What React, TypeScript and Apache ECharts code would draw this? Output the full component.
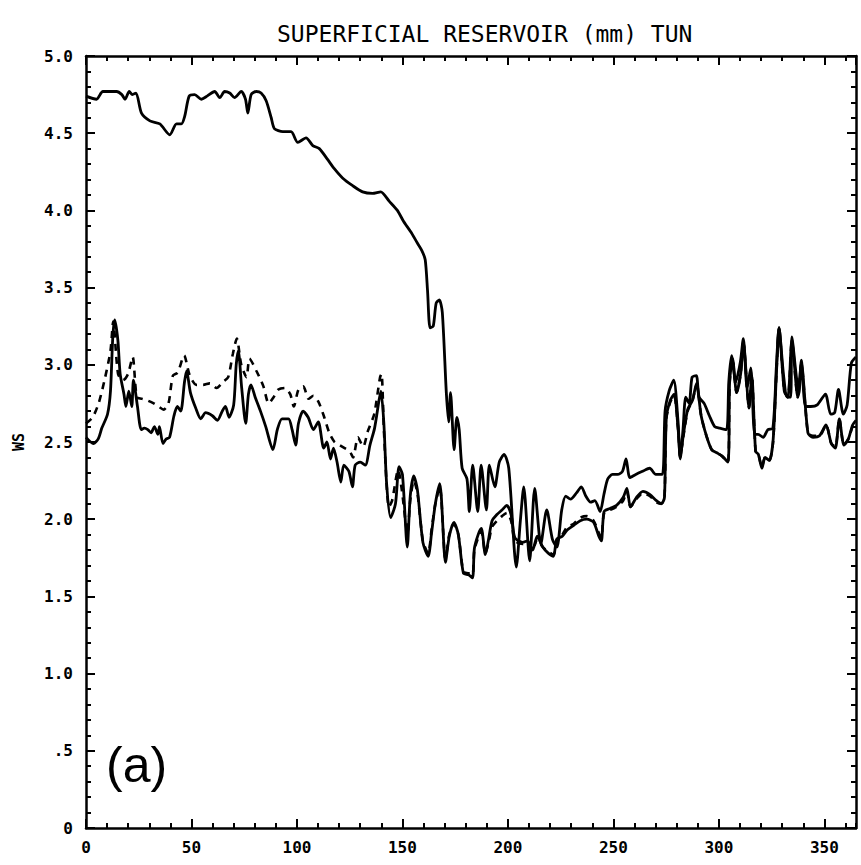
import React, { useEffect, useRef } from "react";
import * as echarts from "echarts";

const chartTitle = "SUPERFICIAL RESERVOIR (mm) TUN";
const yAxisName = "WS";
const panelLabel = "(a)";

// Day of year, value
const seriesA: [number, number][] = [
  [0, 4.74], [5, 4.72], [8, 4.77], [14.5, 4.77], [17, 4.75], [18.5, 4.72], [20.5, 4.77], [22, 4.75], [23.7, 4.76],
  [26.3, 4.63], [30.3, 4.58], [35, 4.56], [39.7, 4.49], [42.9, 4.56], [45.2, 4.56], [46.8, 4.61], [48.9, 4.74],
  [51.5, 4.75], [54.7, 4.72], [57.4, 4.74], [61, 4.77], [63.4, 4.73], [65.7, 4.77], [68.1, 4.76], [70.4, 4.73],
  [73.6, 4.77], [75.6, 4.72], [76.7, 4.63], [78.3, 4.75], [80.7, 4.77], [83, 4.76], [85.4, 4.71], [87.8, 4.6],
  [89.3, 4.53], [93.3, 4.51], [97.2, 4.51], [100.4, 4.44], [104.3, 4.47], [107.5, 4.42], [110.6, 4.4], [114.5, 4.33],
  [117.7, 4.27], [121.6, 4.21], [126.4, 4.16], [131.1, 4.12], [135.8, 4.11], [139.7, 4.12], [143.7, 4.06],
  [147.6, 4.0], [150.5, 3.93], [154, 3.86], [157, 3.79], [159.2, 3.74], [160.8, 3.68], [161.9, 3.48], [163.1, 3.24],
  [164.6, 3.25], [166, 3.4], [167.5, 3.42], [168.9, 3.34], [170.8, 2.82], [171.9, 2.63], [172.8, 2.82], [174.5, 2.45],
  [175.8, 2.66], [176.9, 2.58], [178.3, 2.33], [180.6, 2.26], [181.7, 2.05], [183.3, 2.35], [185.7, 2.05],
  [187.3, 2.35], [189.8, 2.06], [191.2, 2.35], [193.8, 2.21], [195.9, 2.37], [198.2, 2.42], [200.4, 2.33], [204, 1.69],
  [205.9, 1.99], [207.5, 2.21], [210.3, 1.73], [212.7, 2.2], [215.6, 1.84], [218.4, 2.06], [221.1, 1.87], [223.2, 1.82],
  [225.5, 2.06], [227.4, 2.15], [229.7, 2.13], [232.5, 2.17], [234.8, 2.21], [236.9, 2.15], [239.2, 2.11], [241.2, 2.12],
  [243.7, 2.05], [245.5, 2.16], [247.3, 2.26], [249.6, 2.29], [252, 2.29], [254.3, 2.31], [256, 2.39], [257.8, 2.27],
  [260.6, 2.29], [263.8, 2.31], [267.2, 2.33], [270.1, 2.29], [273.2, 2.29], [274.5, 2.7], [276.4, 2.83], [278.6, 2.9],
  [280.6, 2.64], [281.7, 2.39], [283, 2.58], [284.3, 2.79], [285.9, 2.75], [287.3, 2.92], [289.3, 2.93], [290.6, 2.79],
  [293, 2.75], [295.5, 2.67], [298, 2.6], [300.4, 2.59], [303.6, 2.58], [304.7, 2.89], [306, 3.06], [308, 2.89],
  [310.2, 3.02], [311.6, 3.17], [313.4, 2.85], [315.1, 2.98], [317, 2.55], [318.6, 2.55], [321, 2.53], [323.2, 2.58],
  [325.6, 2.59], [327.3, 3.0], [328.5, 3.24], [330.6, 2.94], [332.4, 2.79], [334, 2.79], [334.6, 3.18], [336.6, 2.94],
  [337.9, 2.81], [339.1, 3.03], [341.1, 2.73], [343.5, 2.73], [346.6, 2.74], [350.5, 2.81], [353, 2.68], [354.9, 2.69],
  [356.7, 2.84], [359, 2.68], [360.8, 2.74], [362.8, 3.01], [365, 3.05],
];

const seriesB: [number, number][] = [
  [0, 2.53], [3.5, 2.49], [5.8, 2.52], [7.5, 2.59], [10.2, 2.68], [11.6, 2.83], [12.7, 3.18], [13.6, 3.29], [15.1, 3.16],
  [16.2, 2.94], [18, 2.81], [18.9, 2.73], [20.3, 2.83], [21.7, 2.73], [22.5, 2.9], [24.4, 2.73], [26.2, 2.58],
  [27.7, 2.59], [29.3, 2.58], [30.9, 2.56], [32.4, 2.6], [34.1, 2.55], [34.8, 2.6], [36.5, 2.49], [38, 2.52],
  [39.6, 2.53], [41.7, 2.67], [43.3, 2.73], [44.9, 2.7], [46.7, 2.89], [47.7, 2.96], [49.5, 2.82], [52, 2.72],
  [54.4, 2.65], [56.7, 2.69], [59.9, 2.67], [62.3, 2.64], [64.6, 2.7], [66.1, 2.73], [67.8, 2.66], [70, 2.74],
  [71.2, 3.0], [72.2, 3.09], [73.8, 2.85], [75.7, 2.62], [77, 2.81], [78.2, 2.87], [80.2, 2.79], [82.7, 2.7],
  [85.2, 2.6], [88.6, 2.45], [90.7, 2.58], [92.9, 2.65], [96, 2.65], [97.7, 2.58], [99.4, 2.48], [100.7, 2.62],
  [102.9, 2.7], [105.3, 2.66], [107.8, 2.58], [110.1, 2.63], [112.7, 2.46], [114.2, 2.5], [115.9, 2.39], [117.3, 2.46],
  [119, 2.37], [120.8, 2.24], [122.2, 2.35], [124.6, 2.31], [126.3, 2.21], [127.6, 2.35], [130, 2.37], [132.4, 2.35],
  [134.6, 2.48], [136.8, 2.59], [138.9, 2.77], [139.8, 2.83], [141.2, 2.62], [142.5, 2.23], [144.4, 2.01],
  [146.7, 2.1], [148.4, 2.34], [150, 2.29], [152.3, 1.82], [153.7, 2.15], [155.4, 2.28], [157.1, 2.19], [159.7, 1.85],
  [162.2, 1.76], [163.8, 1.91], [165.6, 2.1], [167.7, 2.23], [170.4, 1.72], [172.2, 1.89], [174.4, 1.98], [176.5, 1.9],
  [178.9, 1.65], [181.3, 1.64], [183.2, 1.62], [184.1, 1.81], [185.9, 1.9], [187.4, 1.94], [189.3, 1.77], [190.7, 1.86],
  [192.5, 1.99], [194.8, 2.03], [197.2, 2.06], [199.5, 2.09], [201.5, 2.03], [203.3, 1.88], [207, 1.85], [209.3, 1.86],
  [211.7, 1.8], [213.9, 1.89], [216.5, 1.82], [219.1, 1.78], [221.6, 1.76], [223.1, 1.87], [225.8, 1.89], [228.1, 1.93],
  [231.2, 1.96], [234.3, 1.99], [237.4, 2.0], [240.6, 1.98], [243.1, 1.89], [244.3, 1.86], [245.6, 2.05], [248.4, 2.07],
  [251.5, 2.09], [254.6, 2.14], [256.4, 2.2], [258.1, 2.08], [260.9, 2.14], [264, 2.18], [267.2, 2.16], [270.4, 2.12],
  [272.7, 2.1], [274.2, 2.14], [275.1, 2.66], [277, 2.77], [278.8, 2.81], [280.7, 2.58], [281.7, 2.4], [283.1, 2.54],
  [285.2, 2.71], [287.5, 2.77], [289.4, 2.88], [291.6, 2.67], [294.1, 2.54], [296.6, 2.45], [299, 2.43], [301.4, 2.41],
  [304.3, 2.37], [305.1, 2.89], [306.5, 3.04], [308.4, 2.82], [310.4, 2.95], [311.6, 3.15], [314.3, 2.72], [315.6, 2.93],
  [317.4, 2.44], [318.7, 2.42], [320.4, 2.33], [321.9, 2.4], [323.9, 2.38], [325.7, 2.51], [327.4, 2.98], [328.5, 3.24],
  [331, 2.83], [332.7, 2.79], [334.6, 3.16], [337.4, 2.79], [339.1, 3.01], [342.2, 2.56], [344.6, 2.53], [347.7, 2.54],
  [350.8, 2.61], [353.3, 2.49], [355.2, 2.46], [357.1, 2.65], [359.3, 2.48], [361.4, 2.52], [363.4, 2.61], [365, 2.64],
];

const seriesC: [number, number][] = [
  [0, 2.62], [3.2, 2.66], [6.2, 2.76], [9.1, 2.92], [11.6, 3.09], [12.9, 3.28], [15.2, 2.94], [17.6, 2.9], [19.9, 2.94],
  [22.1, 3.05], [24.1, 2.79], [26.5, 2.78], [28.9, 2.77], [32.1, 2.75], [34.4, 2.73], [36.8, 2.71], [39.1, 2.75],
  [41.2, 2.93], [43.5, 2.95], [46.5, 3.06], [49.2, 2.93], [52.4, 2.87], [55.5, 2.87], [58.7, 2.88], [61.9, 2.85],
  [65, 2.89], [67.4, 2.92], [69.6, 3.07], [71.5, 3.17], [73.6, 3.0], [76.1, 2.92], [77.5, 3.04], [80.8, 2.96],
  [84.1, 2.86], [86.6, 2.75], [88.9, 2.79], [91.2, 2.84], [94.3, 2.85], [96.8, 2.81], [98.5, 2.73], [100.7, 2.84],
  [103, 2.86], [105.5, 2.78], [107.8, 2.8], [110.2, 2.76], [112.7, 2.67], [115.3, 2.56], [117.8, 2.5], [120.2, 2.48],
  [122.6, 2.46], [125, 2.44], [126.6, 2.4], [128.9, 2.53], [131.4, 2.47], [133.6, 2.57], [136.6, 2.68], [139.4, 2.92],
  [140.1, 2.94], [141.3, 2.55], [143.6, 2.08], [145.1, 2.12], [148, 2.32], [149.7, 2.19], [152.4, 1.91], [153.7, 2.12],
  [155.4, 2.25], [157.1, 2.17], [159.7, 1.86], [162.2, 1.78], [163.8, 1.93], [165.6, 2.1], [167.7, 2.21], [170.4, 1.74],
  [172.2, 1.9], [174.4, 1.97], [176.5, 1.9], [178.9, 1.66], [181.3, 1.65], [183.2, 1.64], [184.1, 1.8], [185.9, 1.88],
  [187.4, 1.92], [189.3, 1.78], [190.7, 1.84], [192.5, 1.95], [194.8, 1.99], [197.2, 2.02], [199.5, 2.04], [201.5, 1.99],
  [203.3, 1.86], [207, 1.84], [209.3, 1.85], [211.7, 1.8], [213.9, 1.87], [216.5, 1.82], [219.1, 1.79], [221.6, 1.77],
  [223.1, 1.85], [225.8, 1.9], [228.1, 1.95], [231.2, 1.97], [234.3, 2.01], [237.4, 2.02], [240.6, 1.99], [243.1, 1.91],
  [244.3, 1.88], [245.6, 2.04], [248.4, 2.06], [251.5, 2.08], [254.6, 2.12], [256.4, 2.18], [258.1, 2.08], [260.9, 2.13],
  [264, 2.17], [267.2, 2.15], [270.4, 2.11], [272.7, 2.1], [274.2, 2.14], [275.1, 2.65], [277, 2.76], [278.8, 2.8],
  [280.7, 2.58], [281.7, 2.41], [283.1, 2.53], [285.2, 2.7], [287.5, 2.77], [289.4, 2.87], [291.6, 2.67], [294.1, 2.54],
  [296.6, 2.45], [299, 2.43], [301.4, 2.41], [304.3, 2.37], [305.1, 2.88], [306.5, 3.03], [308.4, 2.82], [310.4, 2.95],
  [311.6, 3.14], [314.3, 2.72], [315.6, 2.93], [317.4, 2.44], [318.7, 2.42], [320.4, 2.34], [321.9, 2.4], [323.9, 2.38],
  [325.7, 2.5], [327.4, 2.98], [328.5, 3.23], [331, 2.83], [332.7, 2.79], [334.6, 3.15], [337.4, 2.79], [339.1, 3.0],
  [342.2, 2.56], [344.6, 2.54], [347.7, 2.54], [350.8, 2.61], [353.3, 2.49], [355.2, 2.47], [357.1, 2.65], [359.3, 2.48],
  [361.4, 2.52], [363.4, 2.6], [365, 2.63],
];

const X_MIN = 0;
const X_MAX = 365;
const X_MAJOR = 50;
const X_MINOR = 10;
const Y_MIN = 0;
const Y_MAX = 5;
const Y_MAJOR = 0.5;
const Y_MINOR = 0.1;

const MONO = "'DejaVu Sans Mono', 'Liberation Mono', monospace";
const INK = "#000";

function xLabel(v: number): string {
  return v % 50 === 0 && v <= 350 ? String(v) : "";
}
function yLabel(v: number): string {
  if (v === 0) return "0";
  if (v < 1) return ".5";
  return v.toFixed(1);
}

function xAxisDef(position: "bottom" | "top", interval: number, major: boolean, labels: boolean) {
  return {
    type: "value",
    min: X_MIN,
    max: X_MAX,
    interval,
    position,
    axisLine: { show: major, onZero: false, lineStyle: { color: INK, width: 2.5 } },
    axisTick: { show: true, inside: true, length: major ? 9 : 5, lineStyle: { color: INK, width: 2 } },
    axisLabel: labels
      ? { show: true, formatter: xLabel, margin: 11, color: INK, fontFamily: MONO, fontWeight: "bold", fontSize: 16, showMaxLabel: false }
      : { show: false },
    splitLine: { show: false },
  };
}

function yAxisDef(position: "left" | "right", interval: number, major: boolean, labels: boolean) {
  const base: any = {
    type: "value",
    min: Y_MIN,
    max: Y_MAX,
    interval,
    position,
    axisLine: { show: major, onZero: false, lineStyle: { color: INK, width: 2.5 } },
    axisTick: { show: true, inside: true, length: major ? 9 : 5, lineStyle: { color: INK, width: 2 } },
    axisLabel: labels
      ? { show: true, formatter: yLabel, margin: 13, color: INK, fontFamily: MONO, fontWeight: "bold", fontSize: 16 }
      : { show: false },
    splitLine: { show: false },
  };
  if (labels) {
    base.name = yAxisName;
    base.nameLocation = "middle";
    base.nameGap = 60;
    base.nameRotate = 90;
    base.nameTextStyle = { color: INK, fontFamily: MONO, fontWeight: "bold", fontSize: 15 };
  }
  return base;
}

export default function App() {
  const ref = useRef<HTMLDivElement>(null);

  useEffect(() => {
    if (!ref.current) return;
    const chart = echarts.init(ref.current, null, { renderer: "svg" });
    const lineBase = { type: "line", xAxisIndex: 0, yAxisIndex: 0, showSymbol: false, smooth: 0.25, silent: true };
    chart.setOption({
      animation: false,
      backgroundColor: "#fff",
      title: {
        text: chartTitle,
        left: 272,
        top: 17,
        textStyle: { color: INK, fontFamily: MONO, fontWeight: "normal", fontSize: 23 },
      },
      grid: { left: 86, right: 5, top: 56, bottom: 37, containLabel: false },
      xAxis: [
        xAxisDef("bottom", X_MAJOR, true, true),
        xAxisDef("bottom", X_MINOR, false, false),
        xAxisDef("top", X_MAJOR, true, false),
        xAxisDef("top", X_MINOR, false, false),
      ],
      yAxis: [
        yAxisDef("left", Y_MAJOR, true, true),
        yAxisDef("left", Y_MINOR, false, false),
        yAxisDef("right", Y_MAJOR, true, false),
        yAxisDef("right", Y_MINOR, false, false),
      ],
      series: [
        { ...lineBase, name: "C", data: seriesC, lineStyle: { color: INK, width: 2.6, type: [7, 6] } },
        { ...lineBase, name: "B", data: seriesB, lineStyle: { color: INK, width: 2.8 } },
        { ...lineBase, name: "A", data: seriesA, lineStyle: { color: INK, width: 2.8 } },
      ],
      graphic: [
        {
          type: "text",
          left: 106,
          top: 740,
          style: { text: panelLabel, fill: INK, fontFamily: "'Liberation Sans', Arial, sans-serif", fontSize: 50 },
        },
      ],
    });
    return () => chart.dispose();
  }, []);

  return (
    <div
      ref={ref}
      style={{ position: "fixed", left: 0, top: 0, width: 861, height: 865, background: "#fff" }}
    />
  );
}
